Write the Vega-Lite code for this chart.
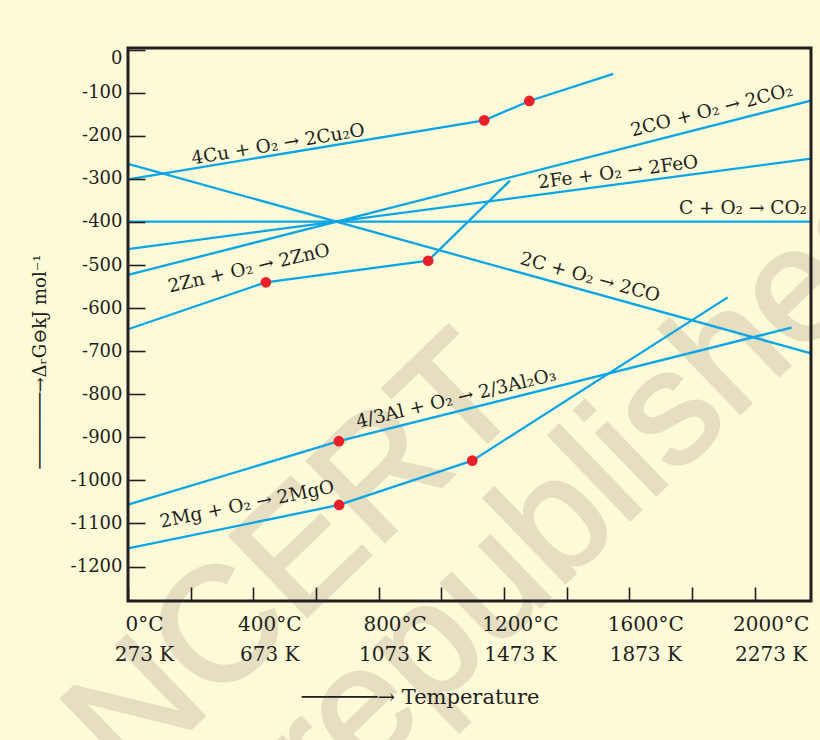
{
  "$schema": "https://vega.github.io/schema/vega-lite/v6.json",
  "background": "#FEFAD7",
  "autosize": {"type": "none"},
  "padding": {"left": 128, "top": 48, "right": 9, "bottom": 139},
  "width": 683,
  "height": 553,
  "datasets": {
    "lines": [
      {"rxn": "Cu", "t": 0, "dG": -301},
      {"rxn": "Cu", "t": 1137, "dG": -164},
      {"rxn": "Cu", "t": 1281, "dG": -119},
      {"rxn": "Cu", "t": 1549, "dG": -56},
      {"rxn": "CO", "t": 0, "dG": -523},
      {"rxn": "CO", "t": 2180, "dG": -118},
      {"rxn": "Fe", "t": 0, "dG": -463},
      {"rxn": "Fe", "t": 2180, "dG": -253},
      {"rxn": "CO2", "t": 0, "dG": -399},
      {"rxn": "CO2", "t": 2180, "dG": -399},
      {"rxn": "C", "t": 0, "dG": -265},
      {"rxn": "C", "t": 2180, "dG": -705},
      {"rxn": "Zn", "t": 0, "dG": -649},
      {"rxn": "Zn", "t": 440, "dG": -540},
      {"rxn": "Zn", "t": 958, "dG": -490},
      {"rxn": "Zn", "t": 1219, "dG": -304},
      {"rxn": "Al", "t": 0, "dG": -1056},
      {"rxn": "Al", "t": 673, "dG": -909},
      {"rxn": "Al", "t": 2118, "dG": -645},
      {"rxn": "Mg", "t": 0, "dG": -1158},
      {"rxn": "Mg", "t": 674, "dG": -1057},
      {"rxn": "Mg", "t": 1099, "dG": -954},
      {"rxn": "Mg", "t": 1914, "dG": -575}
    ],
    "dots": [
      {"rxn": "Cu", "t": 1137, "dG": -164},
      {"rxn": "Cu", "t": 1281, "dG": -119},
      {"rxn": "Zn", "t": 440, "dG": -540},
      {"rxn": "Zn", "t": 958, "dG": -490},
      {"rxn": "Al", "t": 673, "dG": -909},
      {"rxn": "Mg", "t": 674, "dG": -1057},
      {"rxn": "Mg", "t": 1099, "dG": -954}
    ],
    "labels": [
      {"rxn": "Cu", "text": "4Cu + O₂ → 2Cu₂O", "t": 479, "dG": -219},
      {"rxn": "CO", "text": "2CO + O₂ → 2CO₂", "t": 1863, "dG": -140},
      {"rxn": "Fe", "text": "2Fe + O₂ → 2FeO", "t": 1564, "dG": -284},
      {"rxn": "CO2", "text": "C + O₂ → CO₂", "t": 1963, "dG": -367},
      {"rxn": "C", "text": "2C + O₂ → 2CO", "t": 1475, "dG": -528},
      {"rxn": "Zn", "text": "2Zn + O₂ → 2ZnO", "t": 386, "dG": -507},
      {"rxn": "Al", "text": "4/3Al + O₂ → 2/3Al₂O₃", "t": 1047, "dG": -809},
      {"rxn": "Mg", "text": "2Mg + O₂ → 2MgO", "t": 380, "dG": -1055}
    ],
    "watermark": [
      {"word": "NCERT", "t": 533, "dG": -1185},
      {"word": "republished", "t": 1480, "dG": -1020}
    ]
  },
  "layer": [
    {
      "data": {"name": "watermark"},
      "mark": {"type": "text", "font": "Liberation Sans", "fontWeight": "normal", "fontSize": 162, "angle": -44, "color": "#E5DEC0", "stroke": "#E5DEC0", "strokeWidth": 3, "align": "center", "baseline": "middle"},
      "encoding": {
        "x": {"field": "t", "type": "quantitative"},
        "y": {"field": "dG", "type": "quantitative"},
        "text": {"field": "word"}
      }
    },
    {
      "data": {"name": "lines"},
      "mark": {"type": "line", "color": "#0AA5E6", "strokeWidth": 2.3},
      "encoding": {
        "x": {
          "field": "t",
          "type": "quantitative",
          "scale": {"domain": [0, 2180], "nice": false, "zero": false},
          "axis": {
            "zindex": 1,
            "values": [0, 200, 400, 600, 800, 1000, 1200, 1400, 1600, 1800, 2000],
            "labelExpr": "datum.value % 400 === 0 ? [datum.value + '°C', (datum.value + 273) + ' K'] : ''",
            "tickSize": -14,
            "labelPadding": 27,
            "labelOffset": 16,
            "labelFlush": false,
            "labelFontSize": 20,
            "labelLineHeight": 30,
            "title": "──────→ Temperature",
            "titleFontSize": 21,
            "titleX": 292,
            "titleY": 96,
            "titleAlign": "center",
            "titleBaseline": "middle"
          }
        },
        "y": {
          "field": "dG",
          "type": "quantitative",
          "scale": {"domain": [-1280, 4], "nice": false, "zero": false},
          "axis": {
            "zindex": 1,
            "values": [0, -100, -200, -300, -400, -500, -600, -700, -800, -900, -1000, -1100, -1200],
            "labelExpr": "'' + datum.value",
            "tickSize": -17,
            "labelPadding": 23,
            "labelFlush": 5,
            "labelFontSize": 18,
            "title": "───────→ΔᵣG⊖kJ mol⁻¹",
            "titleFontSize": 18,
            "titleAngle": -90,
            "titleX": -88,
            "titleY": 313,
            "titleAlign": "center",
            "titleBaseline": "middle"
          }
        },
        "detail": {"field": "rxn"}
      }
    },
    {
      "data": {"name": "dots"},
      "mark": {"type": "circle", "color": "#E8202A", "size": 115, "opacity": 1},
      "encoding": {
        "x": {"field": "t", "type": "quantitative"},
        "y": {"field": "dG", "type": "quantitative"}
      }
    },
    {
      "data": {"name": "labels"},
      "transform": [{"filter": "datum.rxn === 'Cu'"}],
      "mark": {"type": "text", "angle": -9.5},
      "encoding": {"x": {"field": "t", "type": "quantitative"}, "y": {"field": "dG", "type": "quantitative"}, "text": {"field": "text"}}
    },
    {
      "data": {"name": "labels"},
      "transform": [{"filter": "datum.rxn === 'CO'"}],
      "mark": {"type": "text", "angle": -14.3},
      "encoding": {"x": {"field": "t", "type": "quantitative"}, "y": {"field": "dG", "type": "quantitative"}, "text": {"field": "text"}}
    },
    {
      "data": {"name": "labels"},
      "transform": [{"filter": "datum.rxn === 'Fe'"}],
      "mark": {"type": "text", "angle": -7.5},
      "encoding": {"x": {"field": "t", "type": "quantitative"}, "y": {"field": "dG", "type": "quantitative"}, "text": {"field": "text"}}
    },
    {
      "data": {"name": "labels"},
      "transform": [{"filter": "datum.rxn === 'CO2'"}],
      "mark": {"type": "text", "angle": 0},
      "encoding": {"x": {"field": "t", "type": "quantitative"}, "y": {"field": "dG", "type": "quantitative"}, "text": {"field": "text"}}
    },
    {
      "data": {"name": "labels"},
      "transform": [{"filter": "datum.rxn === 'C'"}],
      "mark": {"type": "text", "angle": 15.5},
      "encoding": {"x": {"field": "t", "type": "quantitative"}, "y": {"field": "dG", "type": "quantitative"}, "text": {"field": "text"}}
    },
    {
      "data": {"name": "labels"},
      "transform": [{"filter": "datum.rxn === 'Zn'"}],
      "mark": {"type": "text", "angle": -13},
      "encoding": {"x": {"field": "t", "type": "quantitative"}, "y": {"field": "dG", "type": "quantitative"}, "text": {"field": "text"}}
    },
    {
      "data": {"name": "labels"},
      "transform": [{"filter": "datum.rxn === 'Al'"}],
      "mark": {"type": "text", "angle": -13.5},
      "encoding": {"x": {"field": "t", "type": "quantitative"}, "y": {"field": "dG", "type": "quantitative"}, "text": {"field": "text"}}
    },
    {
      "data": {"name": "labels"},
      "transform": [{"filter": "datum.rxn === 'Mg'"}],
      "mark": {"type": "text", "angle": -11.5},
      "encoding": {"x": {"field": "t", "type": "quantitative"}, "y": {"field": "dG", "type": "quantitative"}, "text": {"field": "text"}}
    },
    {
      "data": {"values": [{}]},
      "mark": {"type": "rect", "filled": false, "stroke": "#231F20", "strokeWidth": 3},
      "encoding": {
        "x": {"datum": 0},
        "x2": {"datum": 2180},
        "y": {"datum": -1280},
        "y2": {"datum": 4}
      }
    }
  ],
  "config": {
    "view": {"stroke": null},
    "font": "DejaVu Serif",
    "text": {"font": "DejaVu Serif", "fontSize": 18.5, "color": "#231F20", "align": "center", "baseline": "middle"},
    "axis": {
      "domain": false,
      "grid": false,
      "tickColor": "#231F20",
      "tickWidth": 1.6,
      "labelFont": "DejaVu Serif",
      "labelColor": "#231F20",
      "titleFont": "DejaVu Serif",
      "titleFontWeight": "normal",
      "titleFontSize": 20,
      "titleColor": "#231F20"
    }
  }
}
